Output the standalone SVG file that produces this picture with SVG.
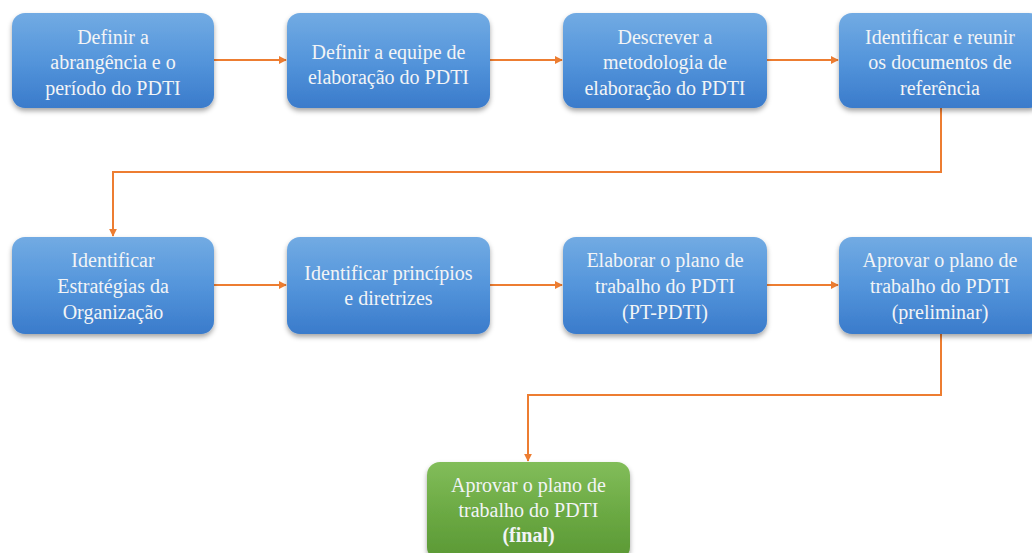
<svg xmlns="http://www.w3.org/2000/svg" width="1032" height="553" viewBox="0 0 1032 553">
<style>
.box{stroke:none;filter:url(#sh)}
.blue{fill:url(#gb)}
.green{fill:url(#gg)}
.t{font-family:"Liberation Serif",serif;font-size:20px;fill:#f2f4f6;text-anchor:middle}
.c{fill:none;stroke:#ed7d31;stroke-width:2;marker-end:url(#ar)}
</style>
<defs>
<linearGradient id="gb" x1="0" y1="0" x2="0" y2="1">
<stop offset="0" stop-color="#72abe3"/>
<stop offset="0.5" stop-color="#5495db"/>
<stop offset="1" stop-color="#3a7bcb"/>
</linearGradient>
<linearGradient id="gg" x1="0" y1="0" x2="0" y2="1">
<stop offset="0" stop-color="#82bd5a"/>
<stop offset="0.5" stop-color="#6caa44"/>
<stop offset="1" stop-color="#5a9834"/>
</linearGradient>
<filter id="sh" x="-10%" y="-10%" width="120%" height="130%">
<feDropShadow dx="0" dy="3" stdDeviation="2.5" flood-color="#000" flood-opacity="0.35"/>
</filter>
<marker id="ar" viewBox="0 0 10 10" refX="9" refY="5" markerWidth="4" markerHeight="4" orient="auto">
<path d="M0,0 L10,5 L0,10 z" fill="#ed7d31"/>
</marker>
</defs>
<g id="connectors">
<path class="c" d="M214,60 H286"/>
<path class="c" d="M490,60 H562"/>
<path class="c" d="M767,60 H838"/>
<path class="c" d="M941,108 V172 H113 V236"/>
<path class="c" d="M214,285 H286"/>
<path class="c" d="M490,285 H562"/>
<path class="c" d="M767,285 H838"/>
<path class="c" d="M941,333 V395 H528 V461"/>
</g>
<g id="n1"><rect class="box blue" x="12" y="13" width="202" height="95" rx="13"/>
<text class="t" x="113" y="44">Definir a</text><text class="t" x="113" y="69">abrangência e o</text><text class="t" x="113" y="95">período do PDTI</text></g>
<g id="n2"><rect class="box blue" x="287" y="13" width="203" height="95" rx="13"/>
<text class="t" x="388.5" y="59">Definir a equipe de</text><text class="t" x="388.5" y="84">elaboração do PDTI</text></g>
<g id="n3"><rect class="box blue" x="563" y="13" width="204" height="95" rx="13"/>
<text class="t" x="665" y="44">Descrever a</text><text class="t" x="665" y="69">metodologia de</text><text class="t" x="665" y="95">elaboração do PDTI</text></g>
<g id="n4"><rect class="box blue" x="839" y="13" width="203" height="95" rx="13"/>
<text class="t" x="940" y="44">Identificar e reunir</text><text class="t" x="940" y="69">os documentos de</text><text class="t" x="940" y="95">referência</text></g>
<g id="n5"><rect class="box blue" x="12" y="237" width="202" height="97" rx="13"/>
<text class="t" x="113" y="267">Identificar</text><text class="t" x="113" y="293">Estratégias da</text><text class="t" x="113" y="319">Organização</text></g>
<g id="n6"><rect class="box blue" x="287" y="237" width="203" height="97" rx="13"/>
<text class="t" x="388.5" y="280">Identificar princípios</text><text class="t" x="388.5" y="305">e diretrizes</text></g>
<g id="n7"><rect class="box blue" x="563" y="237" width="204" height="97" rx="13"/>
<text class="t" x="665" y="267">Elaborar o plano de</text><text class="t" x="665" y="293">trabalho do PDTI</text><text class="t" x="665" y="319">(PT-PDTI)</text></g>
<g id="n8"><rect class="box blue" x="839" y="237" width="203" height="97" rx="13"/>
<text class="t" x="940" y="267">Aprovar o plano de</text><text class="t" x="940" y="293">trabalho do PDTI</text><text class="t" x="940" y="319">(preliminar)</text></g>
<g id="n9"><rect class="box green" x="427" y="462" width="203" height="98" rx="13"/>
<text class="t" x="528.5" y="492">Aprovar o plano de</text><text class="t" x="528.5" y="517">trabalho do PDTI</text><text class="t" x="528.5" y="542" font-weight="bold">(final)</text></g>
</svg>
